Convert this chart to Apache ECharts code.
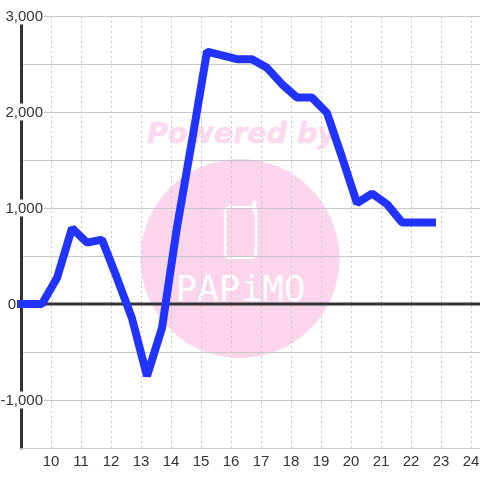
<!DOCTYPE html>
<html>
<head>
<meta charset="utf-8">
<style>html,body{margin:0;padding:0;background:#fff}#c{width:480px;height:480px}</style>
<script src="https://cdn.jsdelivr.net/npm/echarts@6/dist/echarts.min.js"></script>
</head>
<body>
<div id="c"></div>
<script>
const hours = [9, 9.7, 10.2, 10.7, 11.2, 11.7, 12.2, 12.7, 13.2, 13.7, 14.2, 14.7, 15.2, 15.7, 16.2, 16.7, 17.2, 17.7, 18.2, 18.7, 19.2, 19.7, 20.2, 20.7, 21.2, 21.7, 22.2, 22.7];
const values = [0, 0, 270, 790, 640, 670, 270, -150, -750, -250, 800, 1700, 2630, 2590, 2550, 2550, 2460, 2290, 2150, 2150, 1990, 1530, 1050, 1150, 1040, 850, 850, 850];
const zeroLineX = [9, 25];
const zeroLineY = [0, 0];
const watermarkTitle = 'Powered by';
const watermarkName = 'PAPiMO';

const chart = echarts.init(document.getElementById('c'), null, {renderer: 'canvas'});
const font = '"Liberation Sans", Arial, sans-serif';
const pink = '#fbd5ec';
chart.setOption({
  animation: false,
  backgroundColor: '#fff',
  grid: {left: 21, top: 16, width: 480, height: 432, outerBoundsMode: 'none'},
  graphic: [
    {type: 'circle', z: -10, silent: true, shape: {cx: 240, cy: 258.5, r: 99.5}, style: {fill: pink}},
    {type: 'text', z: -10, silent: true, x: 241.5, y: 136, style: {text: watermarkTitle, fill: '#fcd9ef', stroke: '#fcd9ef', lineWidth: 0.6, font: 'italic bold 28.5px "DejaVu Sans"', align: 'center', verticalAlign: 'middle'}},
    {type: 'rect', z: -9, silent: true, shape: {x: 225, y: 207, width: 31, height: 51, r: 5}, style: {fill: 'none', stroke: '#fff', lineWidth: 2.5}},
    {type: 'line', z: -9, silent: true, shape: {x1: 254.5, y1: 202, x2: 254.5, y2: 212}, style: {stroke: '#fff', lineWidth: 3.5, lineCap: 'round'}},
    {type: 'text', z: -9, silent: true, x: 240.5, y: 292, style: {text: watermarkName, fill: '#fff', font: '36px "DejaVu Sans Mono"', align: 'center', verticalAlign: 'middle'}}
  ],
  xAxis: {
    type: 'value', min: 9, max: 25, interval: 1,
    position: 'bottom',
    axisLine: {onZero: false, lineStyle: {color: '#ccc', width: 1}},
    axisTick: {show: false},
    axisLabel: {color: '#333', fontFamily: font, fontSize: 15, margin: 6, showMinLabel: false, showMaxLabel: false, hideOverlap: false},
    splitLine: {show: true, lineStyle: {color: '#c8c8c8', type: [2, 3], width: 1}}
  },
  yAxis: {
    type: 'value', min: -1500, max: 3000, interval: 500,
    axisLine: {show: true, onZero: false, lineStyle: {color: '#333', width: 3}},
    axisTick: {show: false},
    axisLabel: {
      color: '#333', fontFamily: font, fontSize: 15, margin: -23,
      rich: {
        a: {color: '#333', fontFamily: font, fontSize: 15, backgroundColor: '#fff', padding: [2, 1, 0, 1]},
        z: {color: '#333', fontFamily: font, fontSize: 15, padding: [2, 28, 0, 0]}
      },
      formatter: v => v === 0 ? '{z|0}' : (v % 1000 === 0 ? '{a|' + v.toLocaleString('en-US') + '}' : '')
    },
    splitLine: {show: true, lineStyle: {color: '#c8c8c8', width: 1}}
  },
  series: [{
    type: 'line', z: 2, silent: true,
    data: zeroLineX.map((x, i) => [x, zeroLineY[i]]),
    showSymbol: false,
    lineStyle: {color: '#333', width: 3}
  }, {
    type: 'line', clip: false, z: 5,
    data: hours.map((h, i) => [h, values[i]]),
    showSymbol: false, smooth: false,
    lineStyle: {color: '#2033ff', width: 8, cap: 'square', join: 'bevel'}
  }]
});
</script>
</body>
</html>
